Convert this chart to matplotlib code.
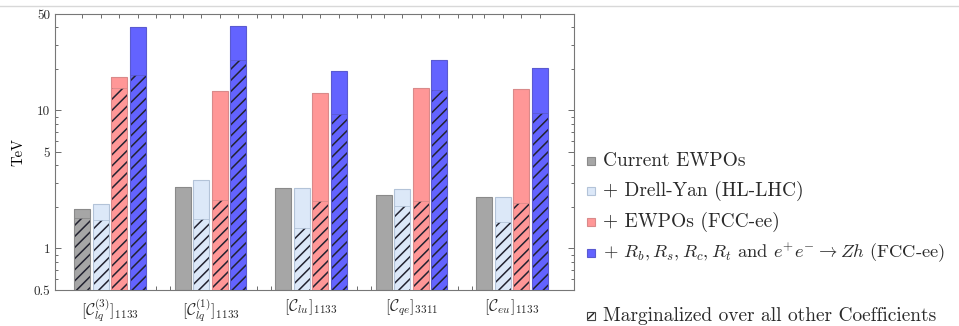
import numpy as np
import matplotlib
matplotlib.use("Agg")
import matplotlib.pyplot as plt
from matplotlib.patches import Rectangle
from matplotlib.lines import Line2D
from matplotlib.ticker import FixedLocator, NullFormatter

plt.rcParams["font.family"] = "serif"
plt.rcParams["font.serif"] = ["cmr10"]
plt.rcParams["mathtext.fontset"] = "cm"
plt.rcParams["axes.formatter.use_mathtext"] = True
plt.rcParams["hatch.linewidth"] = 1.1
plt.rcParams["text.color"] = "#2a2a2a"

# Operator coefficients
categories = [
    r"$[\mathcal{C}_{lq}^{(3)}]_{1133}$",
    r"$[\mathcal{C}_{lq}^{(1)}]_{1133}$",
    r"$[\mathcal{C}_{lu}]_{1133}$",
    r"$[\mathcal{C}_{qe}]_{3311}$",
    r"$[\mathcal{C}_{eu}]_{1133}$",
]

series_labels = [
    "Current EWPOs",
    "+ Drell-Yan (HL-LHC)",
    "+ EWPOs (FCC-ee)",
    r"+ $R_b, R_s, R_c, R_t$ and $e^{+}e^{-} \to Zh$ (FCC-ee)",
]
marginal_label = "Marginalized over all other Coefficients"

# Bounds in TeV: individual fits
current_ewpo = [1.93, 2.80, 2.73, 2.44, 2.37]
drell_yan = [2.09, 3.13, 2.73, 2.70, 2.37]
fcc_ewpo = [17.6, 13.8, 13.3, 14.5, 14.2]
fcc_full = [40.0, 41.2, 19.2, 23.2, 20.3]

# Bounds in TeV: marginalized fits (None = not shown)
current_ewpo_marg = [1.65, None, None, None, None]
drell_yan_marg = [1.60, 1.63, 1.41, 2.03, 1.55]
fcc_ewpo_marg = [14.5, 2.24, 2.20, 2.20, 2.15]
fcc_full_marg = [18.0, 23.2, 9.5, 14.1, 9.6]

fills = ["#a6a6a6", "#dce8f8", "#ff9797", "#6363ff"]
edges = ["#8a8a8a", "#b3c3d8", "#d98a8a", "#5a5ad0"]
hatch_col = "#222230"

base = 0.5
width = 0.16
step = 0.184
offsets = (np.arange(4) - 1.5) * step

W, H = 959, 326
fig = plt.figure(figsize=(W / 100, H / 100), dpi=100)
ax = fig.add_axes([55 / W, 36 / H, 519 / W, 276 / H])

single = [current_ewpo, drell_yan, fcc_ewpo, fcc_full]
marg = [current_ewpo_marg, drell_yan_marg, fcc_ewpo_marg, fcc_full_marg]
x = np.arange(len(categories))

for k in range(4):
    xs = x + offsets[k]
    vals = np.array(single[k])
    ax.bar(xs, vals - base, bottom=base, width=width, color=fills[k],
           edgecolor="none", linewidth=0, zorder=2)
    for xi, m in zip(xs, marg[k]):
        if m is not None:
            ax.bar(xi, m - base, bottom=base, width=width, color=fills[k],
                   edgecolor=hatch_col, linewidth=0, hatch="///", zorder=3)
            ax.plot([xi - width / 2, xi + width / 2], [m, m],
                    color=edges[k], lw=0.6, zorder=4)
    ax.bar(xs, vals - base, bottom=base, width=width, fill=False,
           edgecolor=edges[k], linewidth=0.8, zorder=5)

ax.set_yscale("log")
ax.set_ylim(0.5, 50)
ax.set_xlim(-0.547, 4.617)

major = [0.5, 1, 5, 10, 50]
minor = [0.6, 0.7, 0.8, 0.9, 2, 3, 4, 6, 7, 8, 9, 20, 30, 40]
ax.yaxis.set_major_locator(FixedLocator(major))
ax.yaxis.set_minor_locator(FixedLocator(minor))
ax.set_yticklabels(["0.5", "1", "5", "10", "50"])
ax.yaxis.set_minor_formatter(NullFormatter())
ax.tick_params(axis="y", which="both", direction="in", left=True, right=True,
               labelsize=9.5, colors="#555555", labelcolor="#2a2a2a", width=0.6)
ax.tick_params(axis="y", which="major", length=4)
ax.tick_params(axis="y", which="minor", length=2.5)

ax.set_xticks(x)
ax.set_xticklabels(categories, fontsize=11.5, color="#2a2a2a")
bar_ticks = list((x[:, None] + offsets[None, :]).ravel())
gap_ticks = [g + d for g in x[:-1] for d in (0.46, 0.60)]
ax.set_xticks(sorted(bar_ticks + gap_ticks), minor=True)
ax.tick_params(axis="x", which="major", length=0, pad=5)
ax.tick_params(axis="x", which="minor", direction="in", length=3, top=True,
               bottom=True, colors="#555555", width=0.6)

ax.set_ylabel("TeV", fontsize=10.5, labelpad=6)

for s in ax.spines.values():
    s.set_color("#777777")
    s.set_linewidth(0.8)

# Key: colour swatches with their labels, then the hatch swatch
key_x, text_x, sw = 587, 603, 8
row_centres = [161, 191, 222, 253]
label_sizes = [14, 14, 14, 13.3]


def swatch(x_px, cy_px, **kw):
    fig.add_artist(Rectangle((x_px / W, 1 - (cy_px + sw / 2) / H), sw / W, sw / H,
                             transform=fig.transFigure, **kw))


for lab, f, e, cy, fs in zip(series_labels, fills, edges, row_centres, label_sizes):
    swatch(key_x, cy, facecolor=f, edgecolor=e, linewidth=0.8)
    fig.text(text_x / W, 1 - (cy + 5) / H, lab, fontsize=fs, va="baseline", ha="left")

marg_cy = 316
swatch(key_x, marg_cy, facecolor="white", edgecolor="#444444", linewidth=0.8)
fig.add_artist(Line2D([(key_x + 1.5) / W, (key_x + sw - 1.5) / W],
                      [1 - (marg_cy + sw / 2 - 1.5) / H, 1 - (marg_cy - sw / 2 + 1.5) / H],
                      color="#222222", lw=1.0, transform=fig.transFigure))
fig.text(text_x / W, 1 - (marg_cy + 5) / H, marginal_label, fontsize=14,
         va="baseline", ha="left")

# Thin rule across the top
fig.add_artist(Line2D([0, 1], [1 - 5.5 / H, 1 - 5.5 / H], color="#d8d8d8",
                      lw=1.0, transform=fig.transFigure))

fig.savefig("out.png", dpi=100)
